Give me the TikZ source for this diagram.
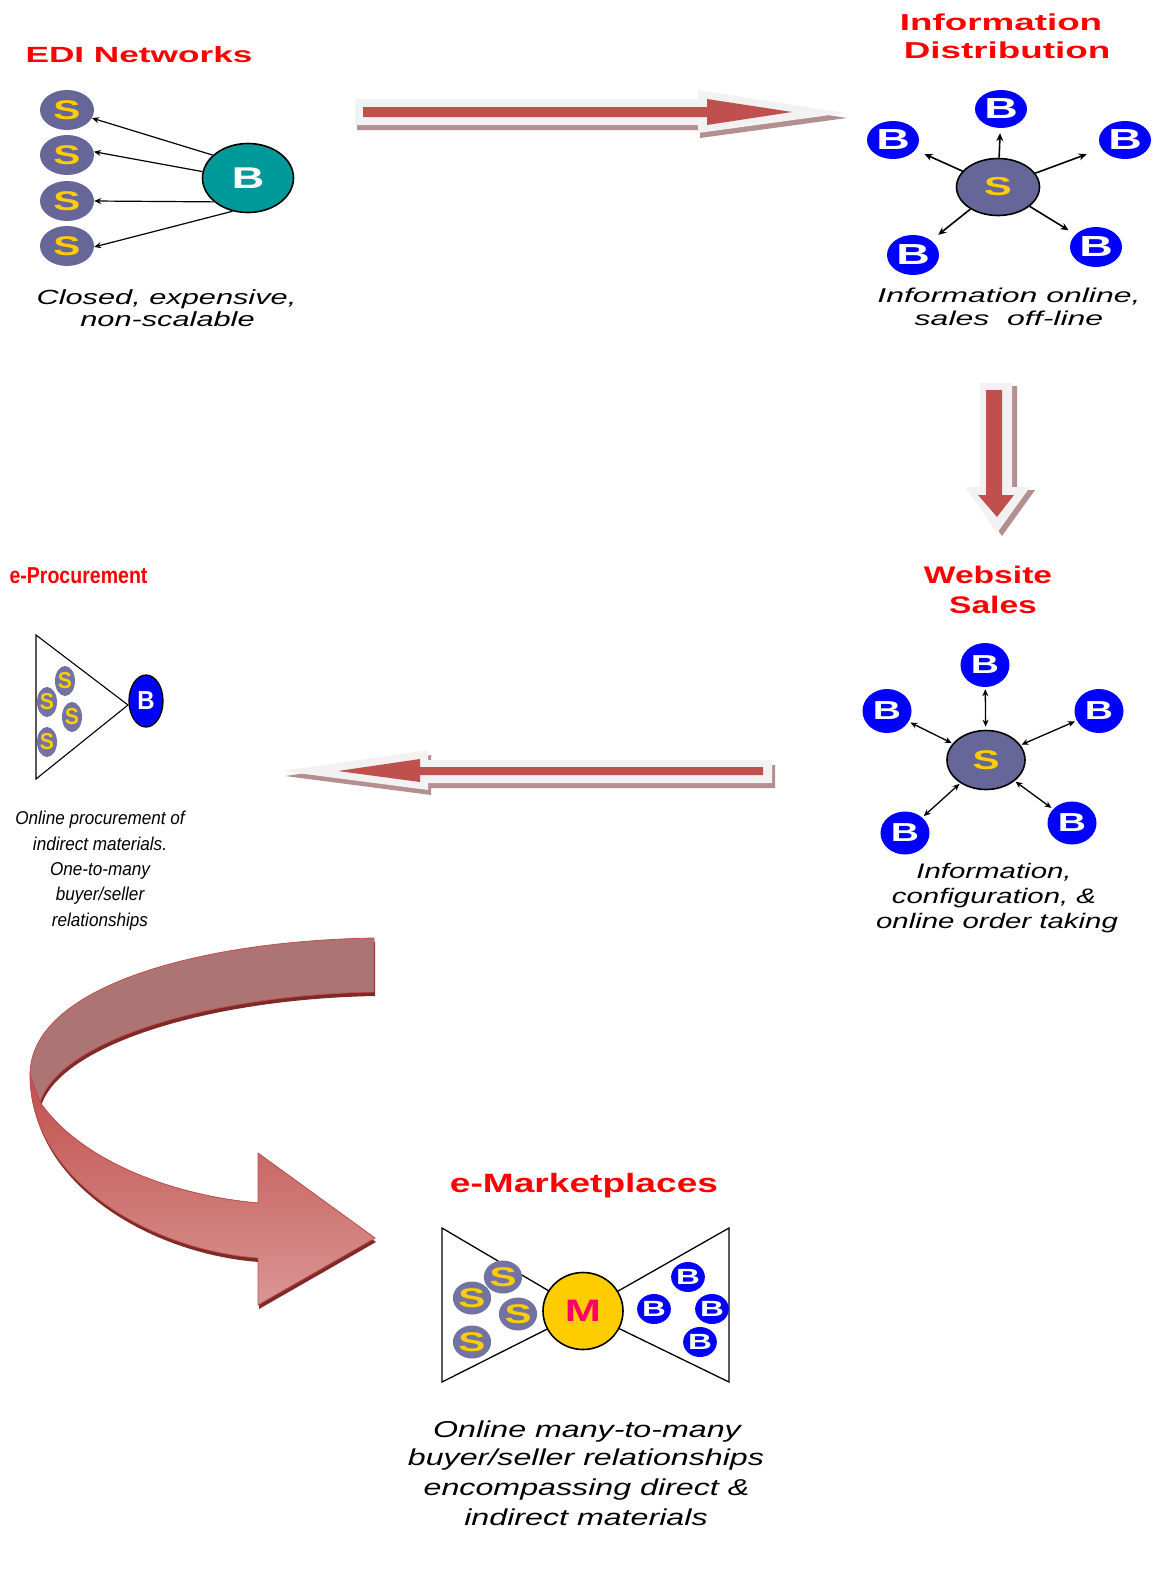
\documentclass[tikz,border=0pt]{standalone}
\usepackage{fontspec}
\setmainfont{Liberation Sans}
\newfontfamily\fSixty[FakeStretch=1.6]{Liberation Sans}
\newfontfamily\fFifty[FakeStretch=1.5]{Liberation Sans}
\newfontfamily\fForty[FakeStretch=1.4]{Liberation Sans}
\newfontfamily\fNarrow[FakeStretch=0.85]{Liberation Sans}
\newfontfamily\fNarrowB[FakeStretch=0.92]{Liberation Sans}
\usetikzlibrary{shapes.geometric,arrows.meta}
\definecolor{titlered}{HTML}{FF0000}
\definecolor{sfill}{HTML}{666699}
\definecolor{sfilllt}{HTML}{7373A3}
\definecolor{syel}{HTML}{FFCC00}
\definecolor{bblue}{HTML}{0000FF}
\definecolor{tealb}{HTML}{009999}
\definecolor{mtext}{HTML}{FF0066}
\definecolor{arred}{HTML}{C0504D}
\definecolor{arout}{HTML}{F2F2F2}
\definecolor{arshad}{HTML}{B38F8F}
\definecolor{ribback}{HTML}{AD7474}
\definecolor{ribdark}{HTML}{7F2A28}
\definecolor{riblight}{HTML}{D99694}
\begin{document}
\begin{tikzpicture}[x=1pt,y=-1pt,
  title/.style={anchor=base, inner sep=0pt, text=titlered},
  capt/.style={anchor=base, inner sep=0pt, text=black},
  snode/.style={ellipse, fill=sfill, inner sep=0pt, text=syel},
  bnode/.style={ellipse, fill=bblue, inner sep=0pt, text=white},
  conn/.style={line width=1.2pt, -{Stealth[length=7pt,width=6pt]}},
  iconn/.style={line width=1.6pt, -{Stealth[length=8pt,width=7pt]}},
  dconn/.style={line width=1.3pt, {Stealth[length=7pt,width=6pt]}-{Stealth[length=7pt,width=6pt]}},
  tri/.style={draw=black, fill=white, line width=1.3pt, line join=miter}
]
\useasboundingbox (0,0) rectangle (1161,1571);
\fill[white] (0,0) rectangle (1161,1571);

% ---------- big straight arrows ----------
% right arrow
\fill[arshad, shift={(2,5)}] (355,99) -- (698,99) -- (698,90) -- (845,113) -- (698,133) -- (698,125) -- (355,125) -- cycle;
\fill[arout] (355,99) -- (698,99) -- (698,90) -- (845,113) -- (698,133) -- (698,125) -- (355,125) -- cycle;
\fill[arred] (363,107) -- (707,107) -- (707,99) -- (792,112) -- (707,125) -- (707,117) -- (363,117) -- cycle;
% down arrow
\fill[arshad, shift={(5,3)}] (980,383) -- (1012,383) -- (1012,487) -- (1030,487) -- (997,533) -- (965,487) -- (980,487) -- cycle;
\fill[arout] (980,383) -- (1012,383) -- (1012,487) -- (1030,487) -- (997,533) -- (965,487) -- (980,487) -- cycle;
\fill[arred] (986,390) -- (1002,390) -- (1002,495) -- (1014,495) -- (997,517) -- (978,495) -- (986,495) -- cycle;
% left arrow
\fill[arshad, shift={(3,5)}] (772,760) -- (428,760) -- (428,750) -- (282,771) -- (428,790) -- (428,783) -- (772,783) -- cycle;
\fill[arout] (772,760) -- (428,760) -- (428,750) -- (282,771) -- (428,790) -- (428,783) -- (772,783) -- cycle;
\fill[arred] (763,767) -- (420,767) -- (420,759) -- (338,771) -- (420,782) -- (420,775) -- (763,775) -- cycle;

% ---------- curved ribbon arrow ----------
\fill[ribdark, shift={(1,4)}] (374,938) .. controls (195,941) and (30,988) .. (30,1075)
  -- (40,1102) .. controls (60,1040) and (210,995) .. (374,992) -- cycle;
\fill[ribdark, shift={(1,4)}] (40,1102) .. controls (80,1160) and (170,1195) .. (258,1203)
  -- (258,1153) -- (375,1238) -- (258,1305) -- (258,1258)
  .. controls (150,1250) and (30,1180) .. (30,1075) -- cycle;
\filldraw[fill=ribback, draw=arred, line width=0.8pt] (374,938) .. controls (195,941) and (30,988) .. (30,1075)
  -- (40,1102) .. controls (60,1040) and (210,995) .. (374,992) -- cycle;
\filldraw[top color=arred, bottom color=riblight, draw=arred, line width=0.8pt]
  (40,1102) .. controls (80,1160) and (170,1195) .. (258,1203)
  -- (258,1153) -- (375,1238) -- (258,1305) -- (258,1258)
  .. controls (150,1250) and (30,1180) .. (30,1075) -- cycle;

% ---------- EDI Networks ----------
\node[title, font=\fSixty\bfseries\fontsize{22}{26}\selectfont] (ediT) at (139,63) {EDI Networks};
\node[snode, minimum width=54pt, minimum height=40pt, font=\fFifty\bfseries\fontsize{27}{27}\selectfont] (eS1) at (67,110) {S};
\node[snode, minimum width=54pt, minimum height=40pt, font=\fFifty\bfseries\fontsize{27}{27}\selectfont] (eS2) at (67,155) {S};
\node[snode, minimum width=54pt, minimum height=40pt, font=\fFifty\bfseries\fontsize{27}{27}\selectfont] (eS3) at (67,201) {S};
\node[snode, minimum width=54pt, minimum height=40pt, font=\fFifty\bfseries\fontsize{27}{27}\selectfont] (eS4) at (67,246) {S};
\node[ellipse, draw=black, line width=1.6pt, fill=tealb, text=white, inner sep=0pt, minimum width=91pt, minimum height=69pt, font=\fFifty\bfseries\fontsize{30}{30}\selectfont] (eB) at (248,178) {B};
\draw[conn] (eB.147) -- (eS1.-18);
\draw[conn] (eB.172) -- (eS2.7);
\draw[conn] (eB.215) -- (eS3.0);
\draw[conn] (eB.245) -- (eS4.-2);
\node[capt, font=\fFifty\itshape\fontsize{20.5}{24}\selectfont] (ediC1) at (166.5,304) {Closed, expensive,};
\node[capt, font=\fFifty\itshape\fontsize{20.5}{24}\selectfont] (ediC2) at (167.5,326) {non-scalable};

% ---------- Information Distribution ----------
\node[title, font=\fSixty\bfseries\fontsize{23}{28}\selectfont] (idT1) at (1001,31) {Information};
\node[title, font=\fSixty\bfseries\fontsize{23}{28}\selectfont] (idT2) at (1007,59) {Distribution};
\node[snode, draw=black, line width=1.6pt, minimum width=83pt, minimum height=57pt, font=\fSixty\bfseries\fontsize{26}{26}\selectfont] (iS) at (998,187) {S};
\node[bnode, minimum width=52pt, minimum height=38pt, font=\fSixty\bfseries\fontsize{29}{29}\selectfont] (iBt) at (1001,109) {B};
\node[bnode, minimum width=52pt, minimum height=38pt, font=\fSixty\bfseries\fontsize{29}{29}\selectfont] (iBl) at (893,140) {B};
\node[bnode, minimum width=52pt, minimum height=38pt, font=\fSixty\bfseries\fontsize{29}{29}\selectfont] (iBr) at (1125,140) {B};
\node[bnode, minimum width=52pt, minimum height=40pt, font=\fSixty\bfseries\fontsize{29}{29}\selectfont] (iBbl) at (913,255) {B};
\node[bnode, minimum width=52pt, minimum height=40pt, font=\fSixty\bfseries\fontsize{29}{29}\selectfont] (iBbr) at (1096,247) {B};
\draw[iconn, shorten >=5pt] (iS) -- (iBt);
\draw[iconn, shorten >=10pt] (iS) -- (iBl);
\draw[iconn, shorten >=16pt] (iS) -- (iBr);
\draw[iconn, shorten >=9pt] (iS) -- (iBbl);
\draw[iconn, shorten >=8pt] (iS) -- (iBbr);
\node[capt, font=\fSixty\itshape\fontsize{20}{25}\selectfont] (idC1) at (1009,302) {Information online,};
\node[capt, font=\fSixty\itshape\fontsize{20}{25}\selectfont] (idC2) at (1009,325) {sales\ \ off-line};

% ---------- Website Sales ----------
\node[title, font=\fForty\bfseries\fontsize{24}{29}\selectfont] (wsT1) at (988,583) {Website};
\node[title, font=\fForty\bfseries\fontsize{24}{29}\selectfont] (wsT2) at (993,613) {Sales};
\node[snode, draw=black, line width=1.6pt, minimum width=78pt, minimum height=59pt, font=\fFifty\bfseries\fontsize{27}{27}\selectfont] (wS) at (986,760) {S};
\node[bnode, minimum width=49pt, minimum height=44pt, font=\fFifty\bfseries\fontsize{26}{26}\selectfont] (wBt) at (985,665) {B};
\node[bnode, minimum width=49pt, minimum height=44pt, font=\fFifty\bfseries\fontsize{26}{26}\selectfont] (wBl) at (887,711) {B};
\node[bnode, minimum width=49pt, minimum height=44pt, font=\fFifty\bfseries\fontsize{26}{26}\selectfont] (wBr) at (1099,711) {B};
\node[bnode, minimum width=49pt, minimum height=43pt, font=\fFifty\bfseries\fontsize{26}{26}\selectfont] (wBbl) at (905,833) {B};
\node[bnode, minimum width=49pt, minimum height=43pt, font=\fFifty\bfseries\fontsize{26}{26}\selectfont] (wBbr) at (1072,823) {B};
\draw[dconn, shorten <=2pt, shorten >=3pt] (wBt) -- (wS);
\draw[dconn, shorten <=2pt, shorten >=1pt] (wBl) -- (wS);
\draw[dconn, shorten <=2pt, shorten >=1pt] (wBr) -- (wS);
\draw[dconn, shorten <=2pt, shorten >=1pt] (wBbl) -- (wS);
\draw[dconn, shorten <=2pt, shorten >=1pt] (wBbr) -- (wS);
\node[capt, font=\fForty\itshape\fontsize{21}{25}\selectfont] (wsC1) at (994,878) {Information,};
\node[capt, font=\fForty\itshape\fontsize{21}{25}\selectfont] (wsC2) at (994,903) {configuration, \&};
\node[capt, font=\fForty\itshape\fontsize{21}{25}\selectfont] (wsC3) at (997,928) {online order taking};

% ---------- e-Procurement ----------
\node[title, font=\fNarrow\bfseries\fontsize{23}{27}\selectfont] (epT) at (78.5,583) {e-Procurement};
\draw[tri, line width=1.1pt] (36,635) -- (36,779) -- (128,705) -- cycle;
\node[snode, fill=sfilllt, minimum width=19pt, minimum height=30pt, font=\fNarrowB\bfseries\fontsize{23}{23}\selectfont] (pS1) at (65,681) {S};
\node[snode, fill=sfilllt, minimum width=19pt, minimum height=30pt, font=\fNarrowB\bfseries\fontsize{23}{23}\selectfont] (pS2) at (47,702) {S};
\node[snode, fill=sfilllt, minimum width=19pt, minimum height=30pt, font=\fNarrowB\bfseries\fontsize{23}{23}\selectfont] (pS3) at (72,717) {S};
\node[snode, fill=sfilllt, minimum width=19pt, minimum height=30pt, font=\fNarrowB\bfseries\fontsize{23}{23}\selectfont] (pS4) at (47,742) {S};
\node[bnode, draw=black, line width=1.3pt, minimum width=34pt, minimum height=52pt, font=\fNarrowB\bfseries\fontsize{26}{26}\selectfont] (pB) at (146,701) {B};
\node[capt, font=\fNarrowB\itshape\fontsize{18.6}{26}\selectfont] (epC1) at (100,824) {Online procurement of};
\node[capt, font=\fNarrowB\itshape\fontsize{18.6}{26}\selectfont] (epC2) at (100,850) {indirect materials.};
\node[capt, font=\fNarrowB\itshape\fontsize{18.6}{26}\selectfont] (epC3) at (100,875) {One-to-many};
\node[capt, font=\fNarrowB\itshape\fontsize{18.6}{26}\selectfont] (epC4) at (100,900) {buyer/seller};
\node[capt, font=\fNarrowB\itshape\fontsize{18.6}{26}\selectfont] (epC5) at (100,926) {relationships};

% ---------- e-Marketplaces ----------
\node[title, font=\fForty\bfseries\fontsize{26.5}{30}\selectfont] (emT) at (584,1192) {e-Marketplaces};
\draw[tri] (442,1228) -- (442,1382) -- (583,1311) -- cycle;
\draw[tri] (729,1228) -- (729,1382) -- (583,1311) -- cycle;
\node[ellipse, draw=black, line width=1.6pt, fill=syel, text=mtext, inner sep=0pt, minimum width=80pt, minimum height=77pt, font=\fForty\bfseries\fontsize{31}{31}\selectfont] (mM) at (583,1311) {M};
\node[snode, fill=sfilllt, minimum width=33pt, minimum height=33pt, font=\fFifty\bfseries\fontsize{27}{27}\selectfont] (mS1) at (503,1277) {S};
\node[snode, fill=sfilllt, minimum width=33pt, minimum height=33pt, font=\fFifty\bfseries\fontsize{27}{27}\selectfont] (mS2) at (472,1298) {S};
\node[snode, fill=sfilllt, minimum width=33pt, minimum height=33pt, font=\fFifty\bfseries\fontsize{27}{27}\selectfont] (mS3) at (518,1314) {S};
\node[snode, fill=sfilllt, minimum width=33pt, minimum height=33pt, font=\fFifty\bfseries\fontsize{27}{27}\selectfont] (mS4) at (472,1342) {S};
\node[bnode, minimum width=33pt, minimum height=30pt, font=\fFifty\bfseries\fontsize{22}{22}\selectfont] (mB1) at (688,1277) {B};
\node[bnode, minimum width=33pt, minimum height=30pt, font=\fFifty\bfseries\fontsize{22}{22}\selectfont] (mB2) at (654,1309) {B};
\node[bnode, minimum width=33pt, minimum height=30pt, font=\fFifty\bfseries\fontsize{22}{22}\selectfont] (mB3) at (712,1309) {B};
\node[bnode, minimum width=33pt, minimum height=30pt, font=\fFifty\bfseries\fontsize{22}{22}\selectfont] (mB4) at (700,1342) {B};
\node[capt, font=\fForty\itshape\fontsize{23}{29.5}\selectfont] (emC1) at (587,1437) {Online many-to-many};
\node[capt, font=\fForty\itshape\fontsize{23}{29.5}\selectfont] (emC2) at (586,1465) {buyer/seller relationships};
\node[capt, font=\fForty\itshape\fontsize{23}{29.5}\selectfont] (emC3) at (586.5,1495) {encompassing direct \&};
\node[capt, font=\fForty\itshape\fontsize{23}{29.5}\selectfont] (emC4) at (586,1525) {indirect materials};
\end{tikzpicture}
\end{document}
